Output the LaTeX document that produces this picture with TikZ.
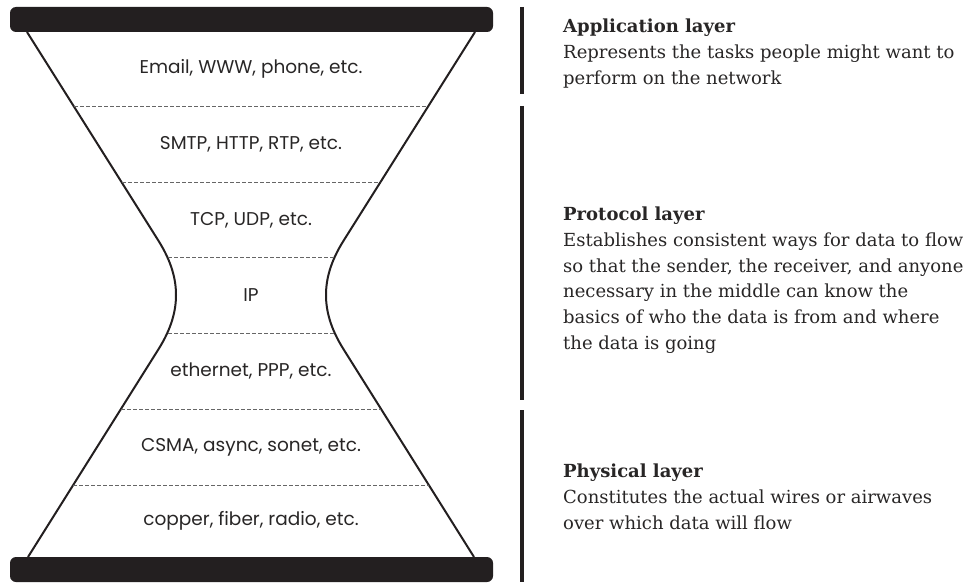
\documentclass[tikz,border=0pt]{standalone}
\usepackage{fontspec}
\setmainfont{DejaVu Serif}
\newfontfamily\labelfont{Poppins}
\usepackage{tikz}
\usetikzlibrary{positioning}
\definecolor{barcolor}{RGB}{35, 31, 32}
\definecolor{textcolor}{RGB}{40, 38, 38}

\begin{document}
\begin{tikzpicture}[
    x=1pt, y=-1pt,
    bar/.style={fill=barcolor, rounded corners=6pt},
    side/.style={draw=barcolor, line width=2pt, line join=round},
    sep/.style={draw=black!60, line width=0.9pt, dash pattern=on 3.5pt off 2.5pt},
    stack/.style={font=\labelfont\fontsize{18.5}{20}\selectfont, text=textcolor},
    desc/.style={anchor=north west, align=left, inner sep=0pt, text=textcolor,
                 font=\fontsize{18}{25.7}\selectfont},
    rule/.style={draw=barcolor, line width=4pt}
]
    \useasboundingbox (0,0) rectangle (978,583);

    % Hourglass sides
    \draw[side] (27,32) -- (158,240) .. controls (172,262) and (176,280) .. (176,295)
        .. controls (176,310) and (172,328) .. (158,350) -- (28,557);
    \draw[side] (475,32) -- (344,240) .. controls (330,262) and (326,280) .. (326,295)
        .. controls (326,310) and (330,328) .. (344,350) -- (474,557);

    % Top and bottom bars
    \fill[bar] (10,7) rectangle (493,32);
    \fill[bar] (10,557) rectangle (493,582);

    % Dashed separators
    \foreach \y/\a in {106/74, 182/122, 257/168, 333/168, 409/121, 485/73} {
        \draw[sep] (\a,\y) -- (502-\a,\y);
    }

    % Stack labels
    \foreach \i/\y/\t in {1/69/{Email, WWW, phone, etc.}, 2/144/{SMTP, HTTP, RTP, etc.},
                          3/220/{TCP, UDP, etc.}, 4/295/{IP},
                          5/371/{ethernet, PPP, etc.}, 6/447/{CSMA, async, sonet, etc.},
                          7/521/{copper, fiber, radio, etc.}} {
        \node[stack] (s\i) at (251,\y) {\t};
    }

    % Brackets
    \draw[rule] (522,7) -- (522,94);
    \draw[rule] (522,106) -- (522,400);
    \draw[rule] (522,410) -- (522,582);

    % Layer descriptions
    \node[desc] (app) at (563,19) {\textbf{Application layer}\\
        Represents the tasks people might want to\\perform on the network};
    \node[desc] (proto) at (563,207) {\textbf{Protocol layer}\\
        Establishes consistent ways for data to flow\\
        so that the sender, the receiver, and anyone\\
        necessary in the middle can know the\\
        basics of who the data is from and where\\
        the data is going};
    \node[desc] (phys) at (563,464) {\textbf{Physical layer}\\
        Constitutes the actual wires or airwaves\\over which data will flow};
\end{tikzpicture}
\end{document}
